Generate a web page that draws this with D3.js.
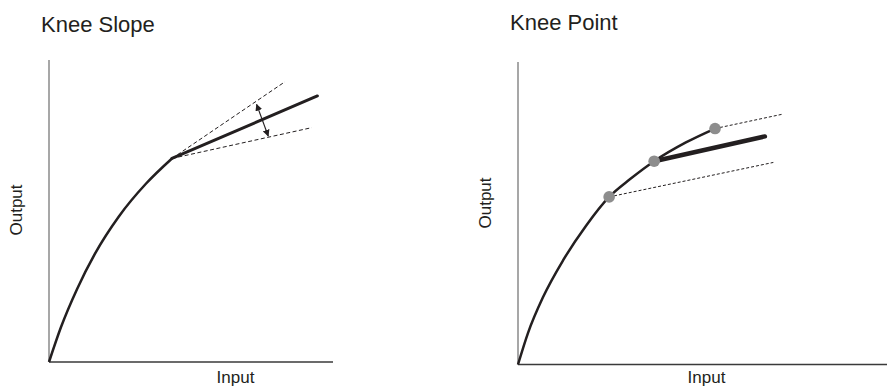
<!DOCTYPE html>
<html>
<head>
<meta charset="utf-8">
<script src="https://cdn.jsdelivr.net/npm/d3@7"></script>
<style>
  body { margin: 0; background: #fff; }
  text { font-family: "Liberation Sans", Arial, Helvetica, sans-serif; fill: #231f20; }
</style>
</head>
<body>
<div id="chart"></div>
<script>
const ink = "#231f20";
const dotGray = "#8d8d8d";
const axisGray = "#8a8a8a";

// panel titles and axis labels
const titles = ["Knee Slope", "Knee Point"];
const xLabel = "Input";
const yLabel = "Output";

// Knee Slope: gamma curve up to the knee (input, output)
const slopeCurve = [[0, 0], [4.2, 11.5], [9.9, 24.2], [16.2, 35.9], [24.6, 48.2], [34.2, 59.1], [43.3, 67.4]];
const slopeSolid = [[43.3, 67.4], [94.5, 88.1]];
const slopeDashHigh = [[43.3, 67.4], [83.1, 92.8]];
const slopeDashLow = [[43.3, 67.4], [92.5, 77.6]];
const slopeArrow = [[73.1, 85.3], [77.2, 74.8]];

// Knee Point: gamma curve, three knee points, knee lines
const pointCurve = [[0, 0], [2.7, 10.4], [6.8, 22.3], [12.2, 34.4], [18.4, 45.8], [24.7, 55.4], [30.4, 61.3], [36.9, 67.2], [45.5, 73.4], [53.4, 78.0]];
const kneePoints = [[24.7, 55.4], [36.9, 67.2], [53.4, 78.0]];
const pointSolid = [[36.9, 67.2], [66.9, 75.4]];
const pointDashLow = [[24.7, 55.4], [69.2, 66.8]];
const pointDashHigh = [[53.4, 78.0], [71.5, 82.7]];

const width = 887, height = 386;

const svg = d3.select("#chart").append("svg")
    .attr("width", width)
    .attr("height", height)
    .style("background-color", "white");

const defs = svg.append("defs");
defs.append("marker")
    .attr("id", "arrowhead")
    .attr("viewBox", "0 0 10 10")
    .attr("refX", 9)
    .attr("refY", 5)
    .attr("markerWidth", 7)
    .attr("markerHeight", 7)
    .attr("markerUnits", "userSpaceOnUse")
    .attr("orient", "auto-start-reverse")
    .append("path")
    .attr("d", "M0,0L10,5L0,10Z")
    .style("fill", ink);

// left panel scales
const xL = d3.scaleLinear().domain([0, 100]).range([49, 333]);
const yL = d3.scaleLinear().domain([0, 100]).range([362, 60]);
// right panel scales
const xR = d3.scaleLinear().domain([0, 100]).range([518, 887]);
const yR = d3.scaleLinear().domain([0, 100]).range([364.5, 62]);

function drawAxes(x, y) {
    svg.append("line")
        .attr("x1", x(0)).attr("y1", y(0))
        .attr("x2", x(0)).attr("y2", y(100))
        .style("stroke", axisGray)
        .style("stroke-width", 1.5);
    svg.append("line")
        .attr("x1", x(0)).attr("y1", y(0))
        .attr("x2", x(100)).attr("y2", y(0))
        .style("stroke", "#3a3a3a")
        .style("stroke-width", 1.5);
}

function drawLine(data, x, y, opts) {
    const line = d3.line()
        .x(d => x(d[0]))
        .y(d => y(d[1]))
        .curve(opts.smooth ? d3.curveMonotoneX : d3.curveLinear);
    return svg.append("path")
        .datum(data)
        .attr("d", line)
        .style("fill", "none")
        .style("stroke", ink)
        .style("stroke-width", opts.w)
        .style("stroke-dasharray", opts.dash || null)
        .style("stroke-linecap", opts.cap || "butt");
}

// ---- Knee Slope ----
drawAxes(xL, yL);
drawLine(slopeDashHigh, xL, yL, { w: 1, dash: "4,2.5" });
drawLine(slopeDashLow, xL, yL, { w: 1, dash: "4,2.5" });
drawLine(slopeCurve, xL, yL, { w: 2.5, smooth: true });
drawLine(slopeSolid, xL, yL, { w: 3, cap: "round" });
drawLine(slopeArrow, xL, yL, { w: 1.2 })
    .attr("marker-start", "url(#arrowhead)")
    .attr("marker-end", "url(#arrowhead)");

// ---- Knee Point ----
drawAxes(xR, yR);
drawLine(pointDashLow, xR, yR, { w: 1, dash: "3,2" });
drawLine(pointDashHigh, xR, yR, { w: 1, dash: "3,2" });
drawLine(pointCurve, xR, yR, { w: 2.5, smooth: true });
drawLine(pointSolid, xR, yR, { w: 4.5, cap: "round" });

svg.selectAll(".knee")
    .data(kneePoints)
    .enter().append("circle")
    .attr("class", "knee")
    .attr("cx", d => xR(d[0]))
    .attr("cy", d => yR(d[1]))
    .attr("r", 5.8)
    .style("fill", dotGray);

// ---- text ----
svg.append("text").attr("x", 41).attr("y", 32)
    .style("font-size", "22px").text(titles[0]);
svg.append("text").attr("x", 510).attr("y", 30)
    .style("font-size", "22px").text(titles[1]);

svg.append("text").attr("x", 235.5).attr("y", 383)
    .attr("text-anchor", "middle").style("font-size", "17px").text(xLabel);
svg.append("text").attr("x", 706.5).attr("y", 383)
    .attr("text-anchor", "middle").style("font-size", "17px").text(xLabel);

svg.append("text")
    .attr("transform", "translate(22,210) rotate(-90)")
    .attr("text-anchor", "middle").style("font-size", "17px").text(yLabel);
svg.append("text")
    .attr("transform", "translate(491,203) rotate(-90)")
    .attr("text-anchor", "middle").style("font-size", "17px").text(yLabel);
</script>
</body>
</html>
